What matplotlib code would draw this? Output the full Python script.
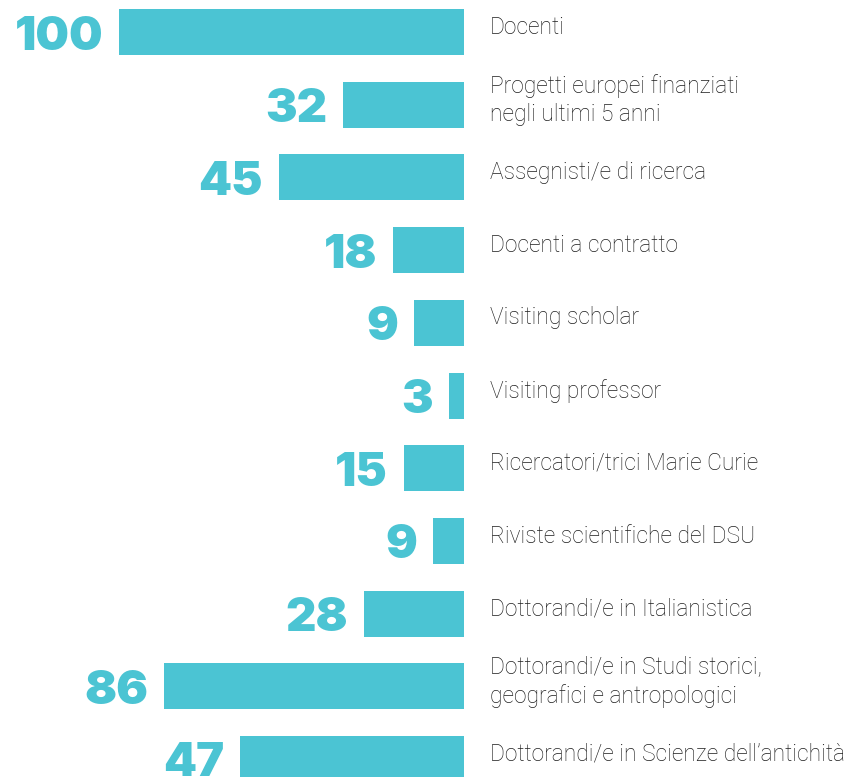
import matplotlib
matplotlib.use('Agg')
import matplotlib.pyplot as plt
import numpy as np

# dati
categorie = [
    'Docenti',
    'Progetti europei finanziati\nnegli ultimi 5 anni',
    'Assegnisti/e di ricerca',
    'Docenti a contratto',
    'Visiting scholar',
    'Visiting professor',
    'Ricercatori/trici Marie Curie',
    'Riviste scientifiche del DSU',
    'Dottorandi/e in Italianistica',
    'Dottorandi/e in Studi storici,\ngeografici e antropologici',
    'Dottorandi/e in Scienze dell\u2019antichit\u00e0',
]
valori = [100, 32, 45, 18, 9, 3, 15, 9, 28, 86, 47]
# lunghezza delle barre come disegnate nell'originale (non proporzionali ai valori)
lunghezza_barre = [100, 35.1, 53.6, 20.6, 14.5, 4.3, 17.4, 9.0, 29.0, 87.0, 64.9]

TEAL = '#4bc4d3'
GRIGIO = '#1e1e1e'

W, H, DPI = 855, 777, 100
fig = plt.figure(figsize=(W / DPI, H / DPI), dpi=DPI)
ax = fig.add_axes([0, 0, 1, 1])

px_unit = 3.45      # pixel per unità
x0_px = 464         # bordo destro delle barre
passo = 72.7        # distanza tra le barre in pixel
y0_px = 32          # centro della prima barra

y = np.arange(len(valori))
ax.barh(y, lunghezza_barre, height=46 / passo, left=0, color=TEAL, lw=0)

ax.set_xlim(x0_px / px_unit, -(W - x0_px) / px_unit)
ax.set_ylim((H - y0_px) / passo, -y0_px / passo)
ax.axis('off')

for i in range(len(valori)):
    ax.annotate(str(valori[i]), xy=(lunghezza_barre[i], y[i]), xytext=(-11.5, -12.6),
                textcoords='offset points', ha='right', va='baseline',
                fontsize=34, fontweight=900, family='Inter', color=TEAL)
    ax.annotate(categorie[i], xy=(0, y[i]), xytext=(18.7, 3.5),
                textcoords='offset points', ha='left', va='center',
                fontsize=16.4, fontweight='light', family='Roboto', color=GRIGIO,
                linespacing=1.28)

fig.savefig('out.png', dpi=DPI)
